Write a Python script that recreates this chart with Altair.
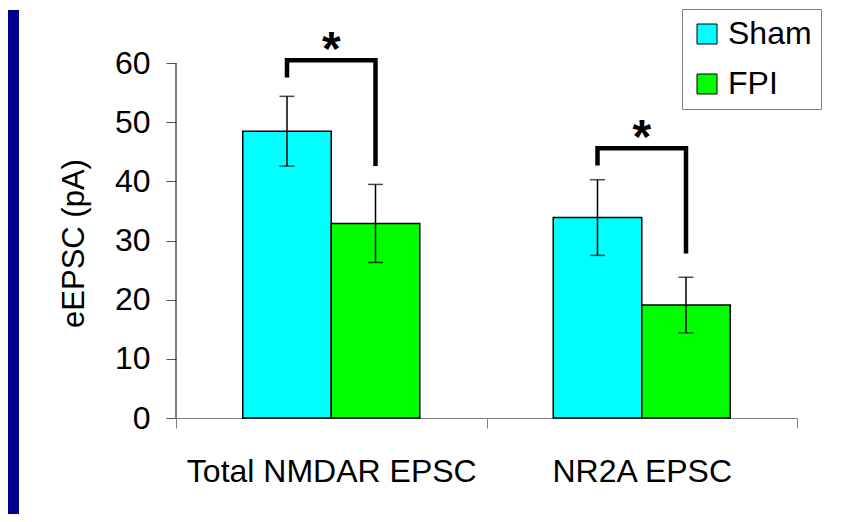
import altair as alt
import pandas as pd

# ---- data ----
groups = ["Total NMDAR EPSC", "NR2A EPSC"]
series = ["Sham", "FPI"]
sham_mean = [48.5, 33.9]
sham_sem = [5.9, 6.4]
fpi_mean = [32.9, 19.1]
fpi_sem = [6.6, 4.7]
bracket_top = [60.5, 45.6]
bracket_left_end = [57.6, 42.7]
bracket_right_end = [42.6, 27.8]
stars = ["*", "*"]
y_ticks = [0, 10, 20, 30, 40, 50, 60]

colors = ["#00FFFF", "#00FF00"]
FONT = "Liberation Sans"
NAVY = "#000090"

rows = []
for i, g in enumerate(groups):
    for s, m, e in (("Sham", sham_mean[i], sham_sem[i]), ("FPI", fpi_mean[i], fpi_sem[i])):
        rows.append({"group": g, "series": s, "mean": m, "lo": m - e, "hi": m + e})
bars_df = pd.DataFrame(rows)

br_rows = []
for i, g in enumerate(groups):
    pts = [("Sham", bracket_left_end[i]), ("Sham", bracket_top[i]),
           ("FPI", bracket_top[i]), ("FPI", bracket_right_end[i])]
    for k, (s, v) in enumerate(pts):
        br_rows.append({"group": g, "series": s, "v": v, "ord": k, "bid": i})
br_df = pd.DataFrame(br_rows)

star_df = pd.DataFrame({"group": groups, "v": bracket_top, "t": stars})
yaxis_df = pd.DataFrame({"lo": [y_ticks[0]], "hi": [y_ticks[-1]]})

y_scale = alt.Scale(domain=[0, 69], nice=False, zero=True)
x_scale = alt.Scale(domain=groups, paddingInner=0, paddingOuter=0)
off_scale = alt.Scale(domain=series, paddingInner=0, paddingOuter=0.754)

x_axis = alt.Axis(title=None, labelAngle=0, tickBand="extent", tickSize=10,
                  tickColor="#808080", domainColor="#808080", labelFontSize=32,
                  labelFont=FONT, labelColor="black", labelPadding=28, labelLimit=0)
y_axis = alt.Axis(title="eEPSC (pA)", values=y_ticks, grid=False, domain=False,
                  tickSize=10, tickColor="#555555", labelFontSize=32, labelFont=FONT,
                  labelColor="black", labelPadding=16, titleFontSize=31, titleFont=FONT,
                  titleFontWeight="normal", titleColor="black", titlePadding=24,
                  titleY=233)

X = alt.X("group:N", sort=groups, scale=x_scale, axis=x_axis)
XO = alt.XOffset("series:N", sort=series, scale=off_scale)


def Y(field):
    return alt.Y(field, type="quantitative", scale=y_scale, axis=y_axis)


bars = alt.Chart(bars_df).mark_bar(stroke="black", strokeWidth=1.5).encode(
    x=X,
    xOffset=XO,
    y=Y("mean"),
    color=alt.Color(
        "series:N", sort=series, scale=alt.Scale(domain=series, range=colors),
        legend=alt.Legend(title=None, orient="none", legendX=674, legendY=-1,
                          symbolType="square", symbolSize=400,
                          symbolStrokeColor="black", symbolStrokeWidth=1,
                          labelFontSize=32, labelFont=FONT, labelColor="black",
                          labelOffset=5, padding=9, rowPadding=18,
                          strokeColor="#808080", fillColor="white"),
    ),
)

yrule = alt.Chart(yaxis_df).mark_rule(color="black", strokeWidth=1).encode(
    x=alt.value(0), y=Y("lo"), y2="hi:Q",
)

err = alt.Chart(bars_df).mark_rule(color="black", strokeWidth=1.5).encode(
    x=X, xOffset=XO, y=Y("lo"), y2="hi:Q",
)
cap_hi = alt.Chart(bars_df).mark_tick(color="black", thickness=1.5, size=15).encode(
    x=X, xOffset=XO, y=Y("hi"),
)
cap_lo = alt.Chart(bars_df).mark_tick(color="black", thickness=1.5, size=15).encode(
    x=X, xOffset=XO, y=Y("lo"),
)

brackets = alt.Chart(br_df).mark_line(color="black", strokeWidth=4.5,
                                      strokeJoin="miter", strokeCap="butt").encode(
    x=X, xOffset=XO, y=Y("v"), detail="bid:N", order="ord:Q",
)

star_txt = alt.Chart(star_df).mark_text(fontSize=48, fontWeight="bold", font=FONT,
                                        color="black", baseline="alphabetic",
                                        align="center", dy=5).encode(
    x=X, y=Y("v"), text="t:N",
)

main = alt.layer(bars, yrule, err, cap_hi, cap_lo, brackets, star_txt).properties(
    width=621, height=408
)

strip = alt.Chart(pd.DataFrame({"a": [0]})).mark_point(opacity=0, size=1).encode(
    x=alt.X("a:Q", axis=None), y=alt.Y("a:Q", axis=None)
).properties(width=11, height=504, view=alt.ViewBackground(fill=NAVY, strokeWidth=0))

chart = alt.hconcat(strip, main, spacing=39).properties(
    padding=0, background="white"
).configure_view(strokeWidth=0)

chart.save("out.html", embed_options={"renderer": "svg", "actions": False})
